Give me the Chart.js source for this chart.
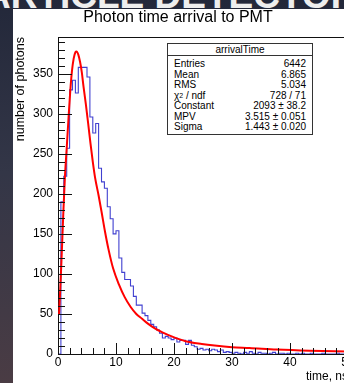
<!DOCTYPE html>
<html><head><meta charset="utf-8">
<script src="https://cdn.jsdelivr.net/npm/chart.js@4.4.0/dist/chart.umd.min.js"></script>
<style>
html,body{margin:0;padding:0;width:344px;height:383px;overflow:hidden;background:#2a2e3e;}
#bg{position:absolute;left:0;top:0;width:344px;height:383px;background:linear-gradient(180deg,#23283a 0%,#333647 45%,#4a3c44 100%);}
#banner{position:absolute;left:-38px;top:-23px;font:bold 37px/37px "Liberation Sans",Arial,sans-serif;color:#eeeeee;white-space:nowrap;}
#panel{position:absolute;left:13px;top:9px;width:340px;height:380px;background:#fff;}
#wrap{position:absolute;left:0;top:0;width:360px;height:383px;}
#stats{position:absolute;left:167px;top:43px;width:146px;height:92px;box-sizing:border-box;border:1px solid #333;background:#fff;font-family:"Liberation Sans",Arial,sans-serif;font-size:10px;color:#000;}
#stats .t{position:absolute;left:0;right:0;top:0;height:11px;line-height:11px;text-align:center;border-bottom:1px solid #333;}
#stats .r{position:absolute;left:6px;right:6px;height:10px;line-height:10px;white-space:nowrap;}
#stats .r span.v{position:absolute;right:0;top:0;}
#stats sup{font-size:7px;line-height:0;position:relative;top:-1px;vertical-align:baseline;}
</style></head>
<body>
<div id="bg"></div>
<div id="banner">PARTICLE DETECTORS</div>
<div id="panel"></div>
<div id="wrap"><canvas id="c" width="360" height="383"></canvas></div>
<div id="stats"></div>
<script>
// ---- data ----
const chartTitle = "Photon time arrival to PMT";
const xTitle = "time, ns";
const yTitle = "number of photons";
const binWidth = 0.5; // ns
const counts = [
  0,190,222,257,330,342,326,358,358,358,
  346,296,276,288,232,215,207,184,169,150,
  154,120,102,93,93,85,72,61,61,51,
  48,42,37,34,30,26,20,22,20,18,
  20,15,17,17,12,17,11,9,6,7,
  5,6,4,6,5,3,5,2,3,2,
  1,2,1,0,2,1,3,1,0,2,
  1,1,0,1,2,0,1,1,0,1,
  0,0,1,0,1,0,0,1,0,0,
  0,1,0,0,0,0,1,0,0,0
];
const fitX = [0.17,0.35,0.55,0.75,0.95,1.2,1.5,1.8,2.1,2.4,2.7,3.0,3.2,3.5,3.8,4.1,4.4,4.8,5.2,5.6,6.0,6.4,7.0,7.5,8.1,8.7,9.5,10.5,11.5,12.5,13.5,14.5,15.5,16.7,18,19.6,22,24.8,27,30,33,37.7,43.4,50];
const fitY = [49,75,108,145,182,222,257,293,327,353,369,377,378,374,365,352,334,312,288,263,240,220,198,178,153,131,107,87,71,59,50,44,38,32,27,22,16,12.5,10.5,8.5,7.5,5.5,4,3];
const xTickLabels = [0,10,20,30,40,50];
const yTickLabels = [0,50,100,150,200,250,300,350];
const statsTitle = "arrivalTime";
const statLabels = ["Entries","Mean","RMS","χ<sup>2</sup> / ndf","Constant","MPV","Sigma"];
const statValues = ["6442","6.865","5.034","728 / 71","2093 ± 38.2","3.515 ± 0.051","1.443 ± 0.020"];

// ---- stats box ----
const st = document.getElementById('stats');
let html = '<div class="t">' + statsTitle + '</div>';
const rowTops = [15,25.5,36,46.5,57,67.5,78];
statLabels.forEach((l,i)=>{
  html += '<div class="r" style="top:'+rowTops[i]+'px"><span>'+l+'</span><span class="v">'+statValues[i]+'</span></div>';
});
st.innerHTML = html;

// ---- chart ----
const histData = counts.map((c,i)=>({x:i*binWidth, y:c}));
histData.push({x:counts.length*binWidth, y:counts[counts.length-1]});
const fitData = fitX.map((x,i)=>({x:x, y:fitY[i]}));

const FONT = '"Liberation Sans", Arial, sans-serif';
Chart.defaults.font.family = FONT;
Chart.defaults.color = '#000';

const rootAxes = {
  id:'rootAxes',
  afterDatasetsDraw(chart){
    const {ctx, chartArea:a, scales:{x,y}} = chart;
    ctx.save();
    ctx.strokeStyle='#111'; ctx.lineWidth=1;
    ctx.beginPath();
    ctx.moveTo(a.left, a.top+0.5); ctx.lineTo(a.right, a.top+0.5);
    for (let v=0; v<=y.max; v+=10){
      const py = Math.round(y.getPixelForValue(v))+0.5;
      const len = (v%50===0)?14:7;
      ctx.moveTo(a.left, py); ctx.lineTo(a.left+len, py);
    }
    for (let v=0; v<=x.max; v+=2){
      const px = Math.round(x.getPixelForValue(v))+0.5;
      const len = (v%10===0)?11:6;
      ctx.moveTo(px, a.bottom); ctx.lineTo(px, a.bottom-len);
    }
    ctx.stroke();
    ctx.restore();
  }
};

new Chart(document.getElementById('c'), {
  type:'line',
  data:{datasets:[
    {label:'fit', data:fitData, borderColor:'#ff0000', borderWidth:2, pointRadius:0, cubicInterpolationMode:'monotone', fill:false, order:0},
    {label:'arrivalTime', data:histData, borderColor:'#4040d0', borderWidth:1.1, pointRadius:0, stepped:'before', fill:false, order:1}
  ]},
  options:{
    responsive:false, animation:false, events:[],
    layout:{padding:{left:8,right:12,top:0,bottom:0}},
    plugins:{
      legend:{display:false}, tooltip:{enabled:false},
      title:{display:true, text:chartTitle, font:{family:FONT,size:16,weight:'normal',lineHeight:1.2}, color:'#000', padding:{top:7.5,bottom:10.3}}
    },
    scales:{
      x:{type:'linear', min:0, max:50,
        afterBuildTicks:s=>{s.ticks = xTickLabels.map(v=>({value:v}));},
        afterFit:s=>{s.height=29;},
        grid:{display:false, drawTicks:false},
        border:{display:true, color:'#111', width:1},
        ticks:{padding:1, font:{size:12}, color:'#000', maxRotation:0, autoSkip:false},
        title:{display:true, text:xTitle, align:'end', font:{size:12,lineHeight:1}, padding:{top:0,bottom:0}, color:'#000'}
      },
      y:{type:'linear', min:0, max:396,
        afterBuildTicks:s=>{s.ticks = yTickLabels.map(v=>({value:v}));},
        afterFit:s=>{s.width=50;},
        grid:{display:false, drawTicks:false},
        border:{display:true, color:'#111', width:1},
        ticks:{padding:5, font:{size:12}, color:'#000', autoSkip:false},
        title:{display:true, text:yTitle, align:'end', font:{size:12.5,lineHeight:1.2}, padding:{top:5.5,bottom:0}, color:'#000'}
      }
    }
  },
  plugins:[rootAxes]
});
</script>
</body></html>
